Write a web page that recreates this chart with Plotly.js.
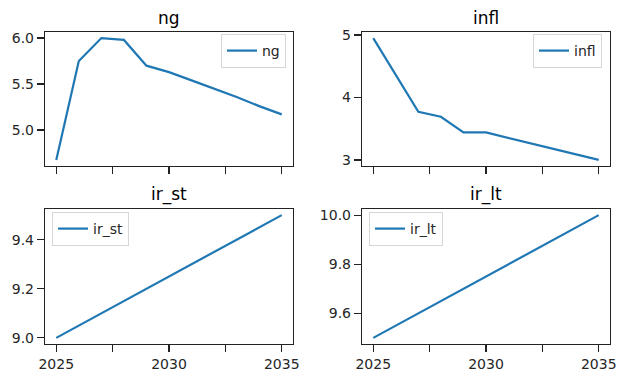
<!DOCTYPE html>
<html>
<head>
<meta charset="utf-8">
<script src="https://cdn.plot.ly/plotly-3.0.1.min.js"></script>
<style>html,body{margin:0;padding:0;background:#fff;}#chart{width:629px;height:381px;}</style>
</head>
<body>
<div id="chart"></div>
<script>
const years = [2025, 2026, 2027, 2028, 2029, 2030, 2031, 2032, 2033, 2034, 2035];
const ng = [4.675, 5.75, 6.0, 5.98, 5.70, 5.63, 5.54, 5.45, 5.36, 5.26, 5.17];
const infl = [4.95, 4.35, 3.77, 3.69, 3.44, 3.44, 3.35, 3.26, 3.18, 3.09, 3.0];
const ir_st = [9.0, 9.05, 9.1, 9.15, 9.2, 9.25, 9.3, 9.35, 9.4, 9.45, 9.5];
const ir_lt = [9.5, 9.55, 9.6, 9.65, 9.7, 9.75, 9.8, 9.85, 9.9, 9.95, 10.0];
const seriesNames = ['ng', 'infl', 'ir_st', 'ir_lt'];
const xTickVals = [2025, 2027.5, 2030, 2032.5, 2035];
const xTickText = ['2025', '', '2030', '', '2035'];

const allSeries = [ng, infl, ir_st, ir_lt];
const color = '#1f77b4';
const font = {family: 'DejaVu Sans', size: 14, color: '#262626'};

function padRange(arr) {
  const mn = Math.min(...arr), mx = Math.max(...arr);
  const p = 0.05 * (mx - mn);
  return [mn - p, mx + p];
}

const dom = {
  xl: [45/629, 293/629], xr: [362/629, 610/629],
  yt: [1 - 166/381, 1 - 32/381], yb: [1 - 344/381, 1 - 209/381]
};
const cells = [
  {x: dom.xl, y: dom.yt, dtick: 0.5, fmt: '.1f', legX: 286/629, legY: 1 - 34/381, xa: 'right', labels: false},
  {x: dom.xr, y: dom.yt, dtick: 1, fmt: 'd', legX: 602/629, legY: 1 - 34/381, xa: 'right', labels: false},
  {x: dom.xl, y: dom.yb, dtick: 0.2, fmt: '.1f', legX: 52/629, legY: 1 - 212/381, xa: 'left', labels: true},
  {x: dom.xr, y: dom.yb, dtick: 0.2, fmt: '.1f', legX: 369/629, legY: 1 - 212/381, xa: 'left', labels: true}
];

const xr = padRange(years);
const data = [];
const layout = {
  width: 629, height: 381,
  margin: {l: 0, r: 0, t: 0, b: 0},
  paper_bgcolor: '#fff', plot_bgcolor: '#fff',
  font: font,
  showlegend: true,
  annotations: []
};

cells.forEach((c, i) => {
  const n = i + 1;
  const suf = n === 1 ? '' : String(n);
  const legName = n === 1 ? 'legend' : 'legend' + n;
  data.push({
    x: years, y: allSeries[i], name: seriesNames[i], type: 'scatter', mode: 'lines',
    line: {color: color, width: 2.2},
    xaxis: 'x' + suf, yaxis: 'y' + suf, legend: legName
  });
  const axCommon = {
    showgrid: false, zeroline: false, showline: true, mirror: true,
    linecolor: '#222', linewidth: 1.2, ticks: 'outside', ticklen: 7, tickwidth: 1.2,
    tickcolor: '#222', tickfont: font
  };
  layout['xaxis' + suf] = Object.assign({}, axCommon, {
    domain: c.x, range: xr, anchor: 'y' + suf,
    tickmode: 'array', tickvals: xTickVals, ticktext: xTickText,
    showticklabels: c.labels
  });
  layout['yaxis' + suf] = Object.assign({}, axCommon, {
    domain: c.y, range: padRange(allSeries[i]), anchor: 'x' + suf,
    tick0: 0, dtick: c.dtick, tickformat: c.fmt
  });
  layout[legName] = {
    x: c.legX, y: c.legY, xanchor: c.xa, yanchor: 'top',
    xref: 'paper', yref: 'paper',
    bgcolor: 'rgba(255,255,255,0.8)', bordercolor: '#d6d6d6', borderwidth: 1,
    font: {family: 'DejaVu Sans', size: 14, color: '#262626'},
    itemwidth: 30, tracegroupgap: 0
  };
  layout.annotations.push({
    text: seriesNames[i], xref: 'paper', yref: 'paper',
    x: (c.x[0] + c.x[1]) / 2, y: c.y[1], xanchor: 'center', yanchor: 'bottom',
    yshift: 2, showarrow: false,
    font: {family: 'DejaVu Sans', size: 17, color: '#000'}
  });
});

Plotly.newPlot('chart', data, layout, {displayModeBar: false, staticPlot: true});
</script>
</body>
</html>
